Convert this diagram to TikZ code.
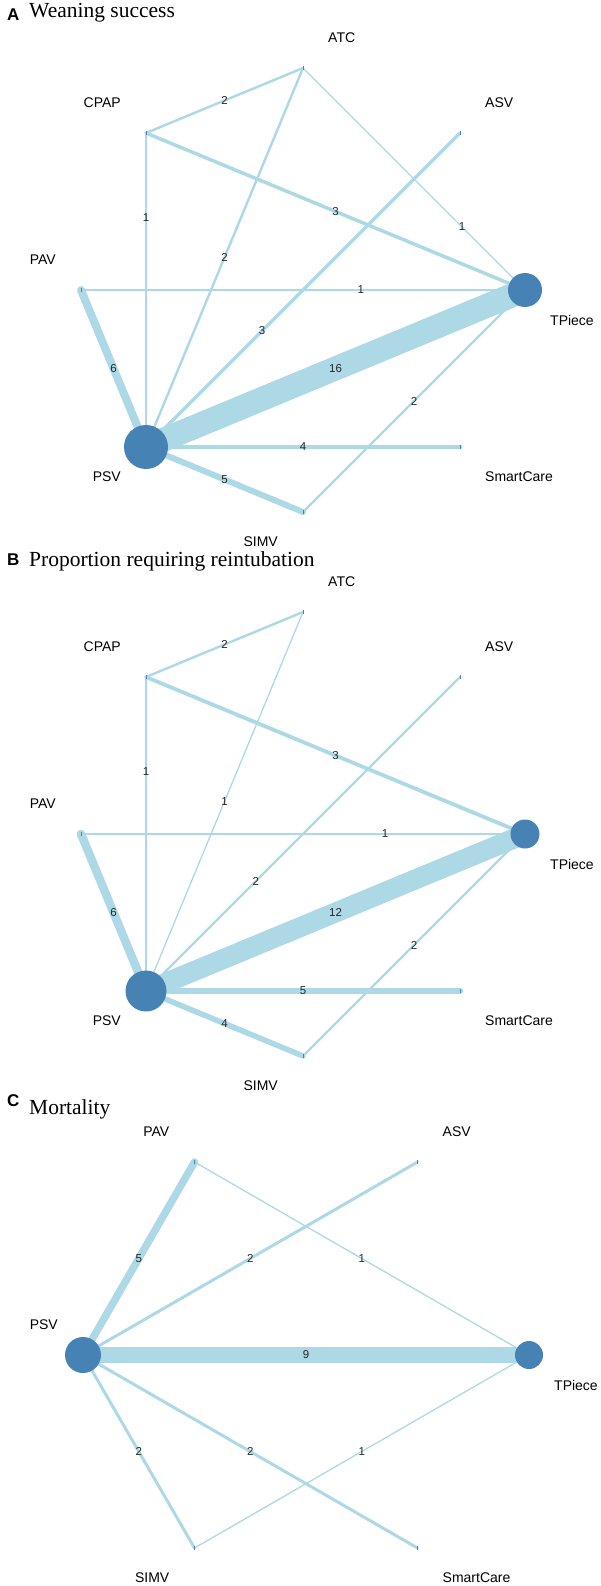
\documentclass[tikz,border=0pt]{standalone}
\usepackage{fontspec}
\setmainfont{Liberation Serif}
\setsansfont{Liberation Sans}
\definecolor{linkblue}{HTML}{ADD8E6}
\definecolor{trtblue}{HTML}{4682B4}

\begin{document}
\begin{tikzpicture}[x=1pt,y=-1pt,
  link/.style={draw=linkblue,line cap=round},
  cnt/.style={font=\sffamily\fontsize{11.5}{12}\selectfont,inner sep=0pt,text=black!85},
  trtname/.style={font=\sffamily\fontsize{14}{16}\selectfont,inner sep=0pt},
  lblNE/.style={anchor=west,xshift=25pt,yshift=30pt},
  lblNW/.style={anchor=east,xshift=-25pt,yshift=30pt},
  lblSE/.style={anchor=west,xshift=25pt,yshift=-30pt},
  lblSW/.style={anchor=east,xshift=-25pt,yshift=-30pt},
  trt/.style={circle,fill=trtblue,inner sep=0pt},
  tickmark/.style={rectangle,fill=trtblue,inner sep=0pt,minimum width=1pt,minimum height=4pt},
  paneltag/.style={font=\sffamily\bfseries\fontsize{17}{18}\selectfont,inner sep=0pt,anchor=base west},
  paneltitle/.style={font=\rmfamily\fontsize{21.5}{24}\selectfont,inner sep=0pt,anchor=base west}]

  \useasboundingbox (0,0) rectangle (600,1586);

  % A: weaning success
  \node[paneltag] (tagA) at (7,21) {A};
  \node[paneltitle] (titleA) at (29,18) {Weaning success};
  \coordinate (aTPiece) at (525,290);
  \coordinate (aASV) at (460,133);
  \coordinate (aATC) at (303,68);
  \coordinate (aCPAP) at (146,133);
  \coordinate (aPAV) at (81,290);
  \coordinate (aPSV) at (146,447);
  \coordinate (aSIMV) at (303,512);
  \coordinate (aSmartCare) at (460,447);

  \draw[link,line width=2.4pt] (aCPAP) -- node[cnt] (a1) {2} (aATC);
  \draw[link,line width=1.3pt] (aATC) -- node[cnt,pos=0.716] (a2) {1} (aTPiece);
  \draw[link,line width=2.4pt] (aATC) -- node[cnt] (a3) {2} (aPSV);
  \draw[link,line width=3.5pt] (aCPAP) -- node[cnt] (a4) {3} (aTPiece);
  \draw[link,line width=1.3pt] (aCPAP) -- node[cnt,pos=0.27] (a5) {1} (aPSV);
  \draw[link,line width=1.3pt] (aPAV) -- node[cnt,pos=0.63] (a6) {1} (aTPiece);
  \draw[link,line width=8pt] (aPAV) -- node[cnt] (a7) {6} (aPSV);
  \draw[link,line width=3.5pt] (aPSV) -- node[cnt,pos=0.37] (a8) {3} (aASV);
  \draw[link,line width=24pt,line cap=butt] (aPSV) -- node[cnt] (a9) {16} (aTPiece);
  \draw[link,line width=4.8pt] (aPSV) -- node[cnt] (a10) {4} (aSmartCare);
  \draw[link,line width=6pt] (aPSV) -- node[cnt] (a11) {5} (aSIMV);
  \draw[link,line width=2.4pt] (aSIMV) -- node[cnt] (a12) {2} (aTPiece);

  \node[trt,minimum size=44pt] (aPSVc) at (aPSV) {};
  \node[trt,minimum size=34pt] (aTPiecec) at (aTPiece) {};
  \node[tickmark] (aASVt) at (aASV) {};
  \node[tickmark] (aATCt) at (aATC) {};
  \node[tickmark] (aCPAPt) at (aCPAP) {};
  \node[tickmark] (aPAVt) at (aPAV) {};
  \node[tickmark] (aSIMVt) at (aSIMV) {};
  \node[tickmark] (aSmartCaret) at (aSmartCare) {};

  \node[trtname,lblSE] (aTPiecel) at (aTPiece) {TPiece};
  \node[trtname,lblNE] (aASVl) at (aASV) {ASV};
  \node[trtname,lblNE] (aATCl) at (aATC) {ATC};
  \node[trtname,lblNW] (aCPAPl) at (aCPAP) {CPAP};
  \node[trtname,lblNW] (aPAVl) at (aPAV) {PAV};
  \node[trtname,lblSW] (aPSVl) at (aPSV) {PSV};
  \node[trtname,lblSW] (aSIMVl) at (aSIMV) {SIMV};
  \node[trtname,lblSE] (aSmartCarel) at (aSmartCare) {SmartCare};

  % B: reintubation
  \node[paneltag] (tagB) at (7,565) {B};
  \node[paneltitle] (titleB) at (29,566) {Proportion requiring reintubation};
  \coordinate (bTPiece) at (525,834);
  \coordinate (bASV) at (460,677);
  \coordinate (bATC) at (303,612);
  \coordinate (bCPAP) at (146,677);
  \coordinate (bPAV) at (81,834);
  \coordinate (bPSV) at (146,991);
  \coordinate (bSIMV) at (303,1056);
  \coordinate (bSmartCare) at (460,991);

  \draw[link,line width=2.4pt] (bCPAP) -- node[cnt] (b1) {2} (bATC);
  \draw[link,line width=3.8pt] (bCPAP) -- node[cnt] (b2) {3} (bTPiece);
  \draw[link,line width=1.3pt] (bCPAP) -- node[cnt,pos=0.30] (b3) {1} (bPSV);
  \draw[link,line width=1.3pt] (bATC) -- node[cnt] (b4) {1} (bPSV);
  \draw[link,line width=1.3pt] (bPAV) -- node[cnt,pos=0.685] (b5) {1} (bTPiece);
  \draw[link,line width=2.4pt] (bPSV) -- node[cnt,pos=0.35] (b6) {2} (bASV);
  \draw[link,line width=20pt,line cap=butt] (bPSV) -- node[cnt] (b7) {12} (bTPiece);
  \draw[link,line width=8.5pt] (bPAV) -- node[cnt] (b8) {6} (bPSV);
  \draw[link,line width=2.4pt] (bSIMV) -- node[cnt] (b9) {2} (bTPiece);
  \draw[link,line width=6.5pt] (bPSV) -- node[cnt] (b10) {5} (bSmartCare);
  \draw[link,line width=5.5pt] (bPSV) -- node[cnt] (b11) {4} (bSIMV);

  \node[trt,minimum size=41pt] (bPSVc) at (bPSV) {};
  \node[trt,minimum size=29pt] (bTPiecec) at (bTPiece) {};
  \node[tickmark] (bASVt) at (bASV) {};
  \node[tickmark] (bATCt) at (bATC) {};
  \node[tickmark] (bCPAPt) at (bCPAP) {};
  \node[tickmark] (bPAVt) at (bPAV) {};
  \node[tickmark] (bSIMVt) at (bSIMV) {};
  \node[tickmark] (bSmartCaret) at (bSmartCare) {};

  \node[trtname,lblSE] (bTPiecel) at (bTPiece) {TPiece};
  \node[trtname,lblNE] (bASVl) at (bASV) {ASV};
  \node[trtname,lblNE] (bATCl) at (bATC) {ATC};
  \node[trtname,lblNW] (bCPAPl) at (bCPAP) {CPAP};
  \node[trtname,lblNW] (bPAVl) at (bPAV) {PAV};
  \node[trtname,lblSW] (bPSVl) at (bPSV) {PSV};
  \node[trtname,lblSW] (bSIMVl) at (bSIMV) {SIMV};
  \node[trtname,lblSE] (bSmartCarel) at (bSmartCare) {SmartCare};

  % C: mortality
  \node[paneltag] (tagC) at (7,1106) {C};
  \node[paneltitle] (titleC) at (29,1114) {Mortality};
  \coordinate (cTPiece) at (529,1355);
  \coordinate (cASV) at (417.5,1162);
  \coordinate (cPAV) at (194.5,1162);
  \coordinate (cPSV) at (83,1355);
  \coordinate (cSIMV) at (194.5,1548);
  \coordinate (cSmartCare) at (417.5,1548);

  \draw[link,line width=7.5pt] (cPSV) -- node[cnt] (c1) {5} (cPAV);
  \draw[link,line width=3pt] (cPSV) -- node[cnt] (c2) {2} (cASV);
  \draw[link,line width=1.3pt] (cPAV) -- node[cnt] (c3) {1} (cTPiece);
  \draw[link,line width=15.7pt,line cap=butt] (cPSV) -- node[cnt] (c4) {9} (cTPiece);
  \draw[link,line width=3pt] (cPSV) -- node[cnt] (c5) {2} (cSIMV);
  \draw[link,line width=3pt] (cPSV) -- node[cnt] (c6) {2} (cSmartCare);
  \draw[link,line width=1.3pt] (cSIMV) -- node[cnt] (c7) {1} (cTPiece);

  \node[trt,minimum size=36pt] (cPSVc) at (cPSV) {};
  \node[trt,minimum size=28pt] (cTPiecec) at (cTPiece) {};
  \node[tickmark] (cASVt) at (cASV) {};
  \node[tickmark] (cPAVt) at (cPAV) {};
  \node[tickmark] (cSIMVt) at (cSIMV) {};
  \node[tickmark] (cSmartCaret) at (cSmartCare) {};

  \node[trtname,lblSE] (cTPiecel) at (cTPiece) {TPiece};
  \node[trtname,lblNE] (cASVl) at (cASV) {ASV};
  \node[trtname,lblNW] (cPAVl) at (cPAV) {PAV};
  \node[trtname,lblNW] (cPSVl) at (cPSV) {PSV};
  \node[trtname,lblSW] (cSIMVl) at (cSIMV) {SIMV};
  \node[trtname,lblSE] (cSmartCarel) at (cSmartCare) {SmartCare};
\end{tikzpicture}
\end{document}
